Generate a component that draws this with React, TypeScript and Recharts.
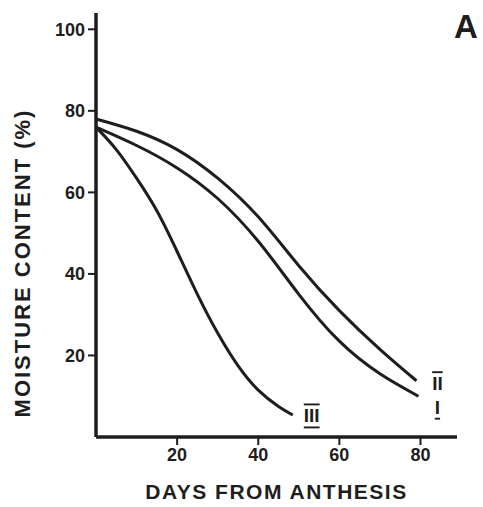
import { LineChart, Line, XAxis, YAxis, LabelList } from "recharts";

// days from anthesis / moisture content (%)
const daysI = [0, 10, 20, 30, 40, 50, 60, 70, 79.5];
const moistureI = [76, 71.5, 66, 58.5, 48, 35, 23.5, 15.5, 10];

const daysII = [0, 10, 20, 30, 40, 50, 60, 70, 79];
const moistureII = [78, 75, 70.5, 63.5, 54, 42, 31, 21.5, 13.8];

const daysIII = [0, 5, 10, 15, 20, 25, 30, 35, 40, 45, 48.5];
const moistureIII = [76, 70.5, 63.5, 55.5, 45.5, 35, 25.5, 17.5, 11.5, 7.5, 5.4];

const xTicks = [20, 40, 60, 80];
const yTicks = [20, 40, 60, 80, 100];

const ink = "#1e1e1e";
const font = "'Liberation Sans', Arial, sans-serif";

const toPoints = (days: number[], vals: number[]) =>
  days.map((d, i) => ({ day: d, moisture: vals[i] }));

const seriesI = toPoints(daysI, moistureI);
const seriesII = toPoints(daysII, moistureII);
const seriesIII = toPoints(daysIII, moistureIII);

function EndTag(props: any) {
  const { x, y, index, count, text, dx, dy, deco } = props;
  if (index !== count - 1) return null;
  return (
    <text
      x={x + dx}
      y={y + dy}
      textAnchor="middle"
      dominantBaseline="central"
      fontFamily={font}
      fontWeight="bold"
      fontSize={19}
      fill={ink}
      style={{ textDecoration: deco }}
    >
      {text}
    </text>
  );
}

function YTitle(props: any) {
  const vb = props.viewBox;
  const cx = vb.x + 22;
  const cy = vb.y + vb.height / 2 + 38;
  return (
    <text
      x={cx}
      y={cy}
      transform={`rotate(-90 ${cx} ${cy})`}
      textAnchor="middle"
      dominantBaseline="central"
      fontFamily={font}
      fontWeight="bold"
      fontSize={22}
      letterSpacing={2}
      fill={ink}
    >
      MOISTURE CONTENT (%)
    </text>
  );
}

export default function App() {
  const tickStyle = { fontFamily: font, fontWeight: "bold", fontSize: 18, fill: ink };
  return (
    <div style={{ position: "absolute", left: 0, top: 0, width: 483, height: 507, background: "#fff" }}>
      <LineChart width={483} height={507} margin={{ top: 13, right: 26, left: 0, bottom: 0 }}>
        <XAxis
          type="number"
          dataKey="day"
          domain={[0, 89]}
          ticks={xTicks}
          height={70}
          stroke={ink}
          strokeWidth={3.5}
          tickSize={8}
          tickMargin={3}
          tick={tickStyle}
          tickLine={{ stroke: ink, strokeWidth: 2 }}
          label={{
            value: "DAYS FROM ANTHESIS",
            position: "insideBottom",
            offset: 8,
            fontFamily: font,
            fontWeight: "bold",
            fontSize: 21,
            letterSpacing: 1.5,
            fill: ink,
          }}
        />
        <YAxis
          type="number"
          dataKey="moisture"
          domain={[0, 104]}
          ticks={yTicks}
          width={96}
          stroke={ink}
          strokeWidth={3.5}
          tickSize={8}
          tickMargin={3}
          tick={tickStyle}
          tickLine={{ stroke: ink, strokeWidth: 2 }}
          label={{ content: (p: any) => <YTitle {...p} /> }}
        />
        <Line data={seriesII} dataKey="moisture" type="natural" stroke={ink} strokeWidth={3} dot={false} isAnimationActive={false}>
          <LabelList
            dataKey="moisture"
            content={(p: any) => <EndTag {...p} count={seriesII.length} text="II" dx={21} dy={3} deco="overline" />}
          />
        </Line>
        <Line data={seriesI} dataKey="moisture" type="natural" stroke={ink} strokeWidth={3} dot={false} isAnimationActive={false}>
          <LabelList
            dataKey="moisture"
            content={(p: any) => <EndTag {...p} count={seriesI.length} text="I" dx={19} dy={11} deco="underline" />}
          />
        </Line>
        <Line data={seriesIII} dataKey="moisture" type="natural" stroke={ink} strokeWidth={3} dot={false} isAnimationActive={false}>
          <LabelList
            dataKey="moisture"
            content={(p: any) => (
              <EndTag {...p} count={seriesIII.length} text="III" dx={19} dy={1} deco="overline underline" />
            )}
          />
        </Line>
      </LineChart>
      <div
        style={{
          position: "absolute",
          left: 454,
          top: 10,
          fontFamily: font,
          fontWeight: "bold",
          fontSize: 33,
          color: ink,
          lineHeight: 1,
        }}
      >
        A
      </div>
    </div>
  );
}
